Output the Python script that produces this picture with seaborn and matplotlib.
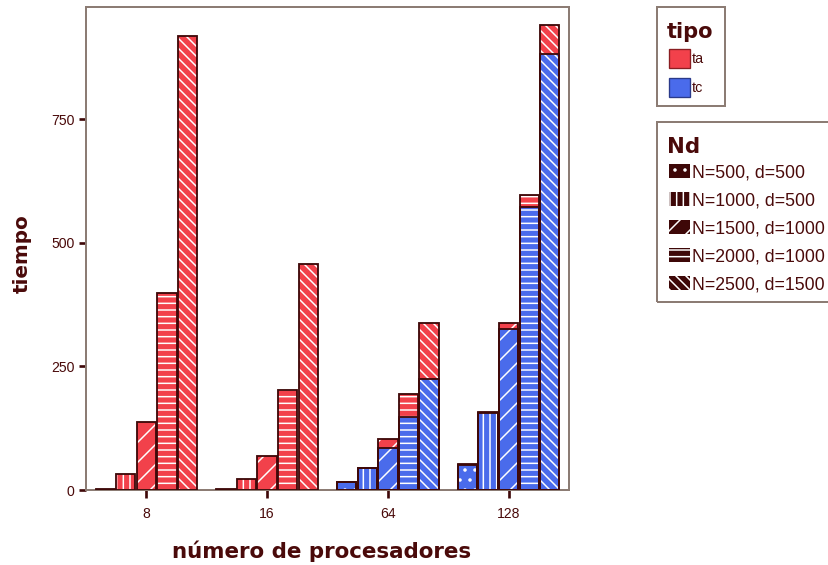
import numpy as np
import pandas as pd
import matplotlib
matplotlib.use("Agg")
import matplotlib.pyplot as plt
from matplotlib.patches import Patch, Rectangle
import seaborn as sns

# ---- data ----
procs = ["8", "16", "64", "128"]
nd_labels = ["N=500, d=500", "N=1000, d=500", "N=1500, d=1000",
             "N=2000, d=1000", "N=2500, d=1500"]
tipo_labels = ["ta", "tc"]
# tc (blue, bottom segment) per Nd across procs
tc_500 = [0, 0, 17, 50]
tc_1000 = [0, 0, 45, 156]
tc_1500 = [0, 0, 86, 326]
tc_2000 = [0, 0, 147, 572]
tc_2500 = [0, 0, 224, 883]
# ta (red, top segment) per Nd across procs
ta_500 = [2, 2, 0, 2]
ta_1000 = [32, 22, 0, 2]
ta_1500 = [137, 69, 17, 11]
ta_2000 = [399, 202, 47, 24]
ta_2500 = [918, 457, 113, 58]
yticks = [0, 250, 500, 750]

tc_all = [tc_500, tc_1000, tc_1500, tc_2000, tc_2500]
ta_all = [ta_500, ta_1000, ta_1500, ta_2000, ta_2500]

rows = []
for nd, tcv, tav in zip(nd_labels, tc_all, ta_all):
    for p, c, a in zip(procs, tcv, tav):
        rows.append({"procs": p, "Nd": nd, "tc": c, "ta": a, "total": c + a})
df = pd.DataFrame(rows)

# ---- style ----
RED = "#F2414B"
BLUE = "#4A6BEB"
DARK = "#3E0808"
TXT = "#4A0A0A"
SPINE = "#8C7C74"
hatches = ["..", "|||", "//", "---", "\\\\\\\\"]

sns.set_style("white")
plt.rcParams["hatch.linewidth"] = 0.9
plt.rcParams["font.family"] = ["Liberation Sans", "DejaVu Sans"]

FW, FH, DPI = 828, 565, 120
fig = plt.figure(figsize=(FW / DPI, FH / DPI), dpi=DPI)
ax = fig.add_axes([86 / FW, 1 - 490 / FH, (569 - 86) / FW, (490 - 6.7) / FH])

W, GAP = 0.85, 0.06
sns.barplot(data=df, x="procs", y="total", hue="Nd", order=procs,
            hue_order=nd_labels, palette={n: RED for n in nd_labels},
            saturation=1, errorbar=None, width=W, gap=GAP, ax=ax, legend=False)
sns.barplot(data=df, x="procs", y="tc", hue="Nd", order=procs,
            hue_order=nd_labels, palette={n: BLUE for n in nd_labels},
            saturation=1, errorbar=None, width=W, gap=GAP, ax=ax, legend=False)

for ci, cont in enumerate(ax.containers):
    h = hatches[ci % 5]
    for bar in cont:
        bar.set_edgecolor("white")
        bar.set_linewidth(0)
        bar.set_hatch(h)

for cont in ax.containers:
    for bar in cont:
        if bar.get_height() <= 0:
            continue
        ax.add_patch(Rectangle(bar.get_xy(), bar.get_width(), bar.get_height(),
                               fill=False, edgecolor=DARK, linewidth=1.1, zorder=5))

ax.set_xlim(-0.5, 3.5)
ax.set_ylim(0, 978)
ax.set_yticks(yticks)
ax.set_yticklabels([str(v) for v in yticks])

for s in ax.spines.values():
    s.set_visible(True)
    s.set_color(SPINE)
    s.set_linewidth(1.2)

ax.tick_params(axis="both", which="major", direction="out", length=4.5, width=1.6,
               color=DARK, labelcolor=TXT, labelsize=8.4, left=True, bottom=True)
ax.tick_params(axis="y", pad=2.5)
ax.tick_params(axis="x", pad=6)

ax.set_xlabel("número de procesadores", fontsize=12.8, fontweight="bold",
              color=TXT, family="DejaVu Sans")
ax.set_ylabel("tiempo", fontsize=12.0, fontweight="bold", color=TXT,
              family="DejaVu Sans")
ax.xaxis.set_label_coords((321.5 - 86) / 483, -(541 - 490) / 483.3)
ax.yaxis.set_label_coords(-(86 - 32) / 483, (490 - 253.5) / 483.3)


def px(x, y):
    return (x / FW, 1 - y / FH)


def frame(x0, y0, x1, y1):
    fx0, fy1 = px(x0, y0)
    fx1, fy0 = px(x1, y1)
    fig.patches.append(Rectangle((fx0, fy0), fx1 - fx0, fy1 - fy0,
                                 transform=fig.transFigure, fill=False,
                                 edgecolor=SPINE, linewidth=1.2, zorder=1))


# ---- legend: tipo ----
frame(657, 6.7, 725, 106)
fig.text(*px(667, 38.5), "tipo", fontsize=12.6, fontweight="bold",
         family="DejaVu Sans", color=TXT, va="baseline", ha="left")
tipo_handles = [Patch(facecolor=RED, edgecolor="#8A1E22", linewidth=0.8),
                Patch(facecolor=BLUE, edgecolor="#2A3A8A", linewidth=0.8)]
leg1 = fig.legend(handles=tipo_handles, labels=tipo_labels,
                  loc="upper left", bbox_to_anchor=px(669, 49),
                  frameon=False, fontsize=8.6,
                  handlelength=1.47, handleheight=1.7,
                  handletextpad=0.15, labelspacing=0.66, borderpad=0,
                  borderaxespad=0, labelcolor=TXT)

# ---- legend: Nd ----
frame(657, 122, 840, 302)
fig.text(*px(667, 153), "Nd", fontsize=12.8, fontweight="bold",
         family="DejaVu Sans", color=TXT, va="baseline", ha="left")
nd_handles = [Patch(facecolor=DARK, edgecolor="white", linewidth=0, hatch=h)
              for h in hatches]
leg2 = fig.legend(handles=nd_handles, labels=nd_labels,
                  loc="upper left", bbox_to_anchor=px(669, 164),
                  frameon=False, fontsize=10.6,
                  handlelength=1.2, handleheight=0.84,
                  handletextpad=0.1, labelspacing=0.62, borderpad=0,
                  borderaxespad=0, labelcolor=TXT)

fig.savefig("out.png", dpi=DPI, facecolor="white")
